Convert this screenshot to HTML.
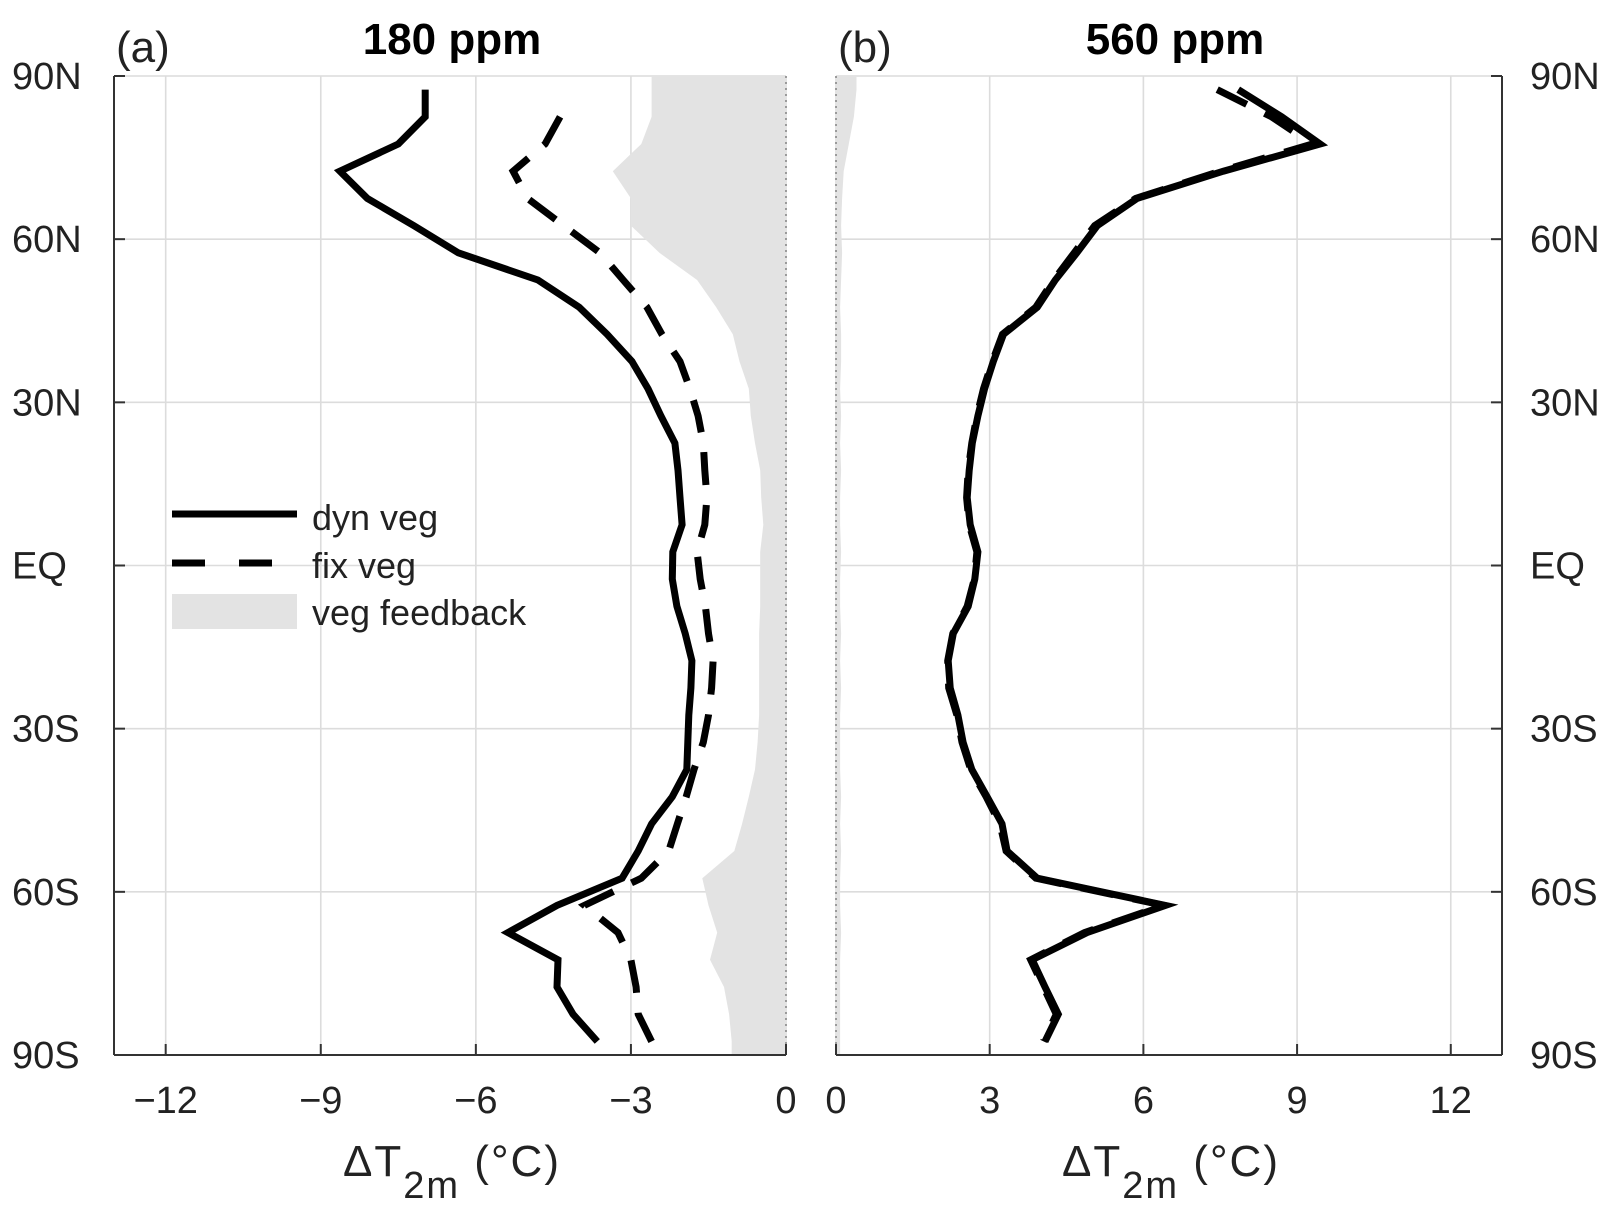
<!DOCTYPE html>
<html><head><meta charset="utf-8"><style>
html,body{margin:0;padding:0;background:#fff;}
svg{display:block;}
text{font-family:"Liberation Sans Narrow","Liberation Sans",sans-serif;fill:#222;}
</style></head><body>
<svg id="chart" width="1611" height="1207" viewBox="0 0 1611 1207" xmlns="http://www.w3.org/2000/svg">
<g id="gA"></g>
<g id="gB"></g>
<g id="legend">
  <line x1="172" y1="514" x2="297" y2="514" stroke="#000" stroke-width="7"/>
  <text x="312" y="530" font-size="36">dyn veg</text>
  <line x1="172" y1="563" x2="297" y2="563" stroke="#000" stroke-width="7" stroke-dasharray="33 34"/>
  <text x="312" y="578" font-size="36">fix veg</text>
  <rect x="172" y="594" width="125" height="35" fill="#e3e3e3"/>
  <text x="312" y="625" font-size="36">veg feedback</text>
</g>
</svg>
<script>
const lats = [87.5,82.5,77.5,72.5,67.5,62.5,57.5,52.5,47.5,42.5,37.5,32.5,27.5,22.5,17.5,12.5,7.5,2.5,-2.5,-7.5,-12.5,-17.5,-22.5,-27.5,-32.5,-37.5,-42.5,-47.5,-52.5,-57.5,-62.5,-67.5,-72.5,-77.5,-82.5,-87.5];
const dyn180 = [-6.98,-6.98,-7.5,-8.63,-8.1,-7.2,-6.34,-4.8,-4.0,-3.46,-2.98,-2.67,-2.42,-2.15,-2.09,-2.05,-2.01,-2.19,-2.2,-2.11,-1.95,-1.82,-1.84,-1.88,-1.9,-1.92,-2.2,-2.6,-2.86,-3.17,-4.43,-5.38,-4.41,-4.43,-4.12,-3.65];
const fix180 = [null,-4.37,-4.66,-5.28,-5.0,-4.3,-3.6,-3.15,-2.69,-2.4,-2.05,-1.86,-1.7,-1.6,-1.57,-1.53,-1.57,-1.72,-1.66,-1.56,-1.5,-1.41,-1.44,-1.5,-1.6,-1.78,-1.93,-2.1,-2.27,-2.8,-3.9,-3.25,-3.0,-2.9,-2.86,-2.6];
const feed180 = [-2.6,-2.6,-2.8,-3.35,-3.0,-3.0,-2.45,-1.72,-1.35,-1.03,-0.9,-0.72,-0.68,-0.6,-0.5,-0.48,-0.44,-0.5,-0.5,-0.5,-0.52,-0.52,-0.52,-0.52,-0.55,-0.6,-0.72,-0.85,-1.0,-1.62,-1.5,-1.33,-1.47,-1.2,-1.1,-1.05];
const dyn560 = [7.85,8.7,9.45,7.56,5.88,5.1,4.7,4.28,3.93,3.27,3.07,2.9,2.77,2.66,2.6,2.56,2.62,2.77,2.71,2.58,2.29,2.19,2.23,2.38,2.48,2.65,2.95,3.24,3.34,3.93,6.43,4.9,3.83,4.08,4.34,4.08];
const fix560 = [7.44,8.5,9.3,7.5,5.85,5.05,4.65,4.25,3.9,3.25,3.05,2.88,2.75,2.65,2.58,2.55,2.6,2.75,2.7,2.56,2.28,2.18,2.2,2.36,2.46,2.63,2.93,3.2,3.32,3.9,6.4,4.85,3.8,4.05,4.3,4.05];
const feed560 = [0.4,0.35,0.25,0.15,0.12,0.1,0.12,0.1,0.08,0.1,0.1,0.08,0.1,0.08,0.1,0.08,0.08,0.1,0.08,0.08,0.1,0.08,0.1,0.08,0.08,0.08,0.1,0.08,0.1,0.08,0.08,0.1,0.08,0.08,0.08,0.08];
const latTicks = [90,60,30,0,-30,-60,-90];
const latLabels = ["90N","60N","30N","EQ","30S","60S","90S"];
const xTicksA = [-12,-9,-6,-3,0];
const xTicksB = [0,3,6,9,12];

const NS = "http://www.w3.org/2000/svg";
const Y0 = 76, Y1 = 1055;
function yScale(lat){ return Y0 + (90 - lat) / 180 * (Y1 - Y0); }
function mk(parent, tag, attrs){ const e = document.createElementNS(NS, tag); for (const k in attrs) e.setAttribute(k, attrs[k]); parent.appendChild(e); return e; }

function panel(g, opts){
  const xs = v => opts.px0 + (v - opts.d0) / (opts.d1 - opts.d0) * (opts.px1 - opts.px0);
  opts.ticks.forEach(t => {
    const l = mk(g, 'line', {x1: xs(t), x2: xs(t), y1: Y0, y2: Y1, stroke: '#dcdcdc', 'stroke-width': 1.6});
    
    
  });
  latTicks.forEach(t => {
    const l = mk(g, 'line', {x1: opts.px0, x2: opts.px1, y1: yScale(t), y2: yScale(t), stroke: '#dcdcdc', 'stroke-width': 1.6});
    
    
  });
  // feedback shading
  const fd = opts.feed;
  let pts = [[xs(0), Y0], [xs(fd[0]), Y0]];
  fd.forEach((v, i) => pts.push([xs(v), yScale(lats[i])]));
  pts.push([xs(fd[fd.length-1]), Y1], [xs(0), Y1]);
  const poly = mk(g, 'polygon', {points: pts.map(p => p[0].toFixed(1) + ',' + p[1].toFixed(1)).join(' '), fill: '#e3e3e3'});
  
  
  const z = mk(g, 'line', {x1: xs(0), x2: xs(0), y1: Y0, y2: Y1, stroke: '#888', 'stroke-width': 1.6, 'stroke-dasharray': '2 4'});
  
  
  function line(vals, dash, name){
    let d = '', started = false;
    vals.forEach((v, i) => { if (v === null) return; d += (started ? 'L' : 'M') + xs(v).toFixed(1) + ',' + yScale(lats[i]).toFixed(1); started = true; });
    const p = mk(g, 'path', {d: d, fill: 'none', stroke: '#000', 'stroke-width': 7, 'stroke-linejoin': 'miter', 'stroke-dasharray': dash || 'none'});
    
    
  }
  line(opts.fix, '33 20', 'fix-veg-line');
  line(opts.dyn, null, 'dyn-veg-line');
  const ax = mk(g, 'line', {x1: opts.px0, x2: opts.px1, y1: Y1, y2: Y1, stroke: '#333', 'stroke-width': 2});
  
  
  const sx = opts.side === 'left' ? opts.px0 : opts.px1;
  const ay = mk(g, 'line', {x1: sx, x2: sx, y1: Y0, y2: Y1, stroke: '#333', 'stroke-width': 2});
  
  
  opts.ticks.forEach(t => {
    const tk = mk(g, 'line', {x1: xs(t), x2: xs(t), y1: Y1, y2: Y1 - 11, stroke: '#333', 'stroke-width': 2});
    
    
    const tx = mk(g, 'text', {x: xs(t), y: 1113, 'font-size': 38, 'text-anchor': 'middle'});
    tx.textContent = t < 0 ? '\u2212' + Math.abs(t) : String(t);
    
    
  });
  latTicks.forEach((t, i) => {
    const dir = opts.side === 'left' ? 1 : -1;
    const tk = mk(g, 'line', {x1: sx, x2: sx + dir * 11, y1: yScale(t), y2: yScale(t), stroke: '#333', 'stroke-width': 2});
    
    
    const tx = mk(g, 'text', {x: opts.side === 'left' ? 12 : 1530, y: yScale(t) + 13, 'font-size': 38});
    tx.textContent = latLabels[i];
    
    
  });
  const xl = mk(g, 'text', {x: (opts.px0 + opts.px1) / 2 + 2, y: 1176, 'font-size': 44, 'text-anchor': 'middle', 'letter-spacing': 2});
  xl.innerHTML = '\u0394T<tspan dy="22" font-size="38">2m</tspan><tspan dy="-22"> (\u00B0C)</tspan>';
  
  
  const pl = mk(g, 'text', {x: opts.px0 + 2, y: 62, 'font-size': 44});
  pl.textContent = opts.label;
  
  
  const tt = mk(g, 'text', {x: opts.titleX, y: 54, 'font-size': 44, 'font-weight': 'bold', 'text-anchor': 'middle', style: 'font-family:"Liberation Sans",sans-serif;fill:#000'});
  tt.textContent = opts.title;
  
  
}

panel(document.getElementById('gA'), {px0: 114, px1: 786, d0: -13, d1: 0, ticks: xTicksA, dyn: dyn180, fix: fix180, feed: feed180, side: 'left', label: '(a)', title: '180 ppm', titleX: 452});
panel(document.getElementById('gB'), {px0: 836, px1: 1502, d0: 0, d1: 13, ticks: xTicksB, dyn: dyn560, fix: fix560, feed: feed560, side: 'right', label: '(b)', title: '560 ppm', titleX: 1175});
</script>
</body></html>
